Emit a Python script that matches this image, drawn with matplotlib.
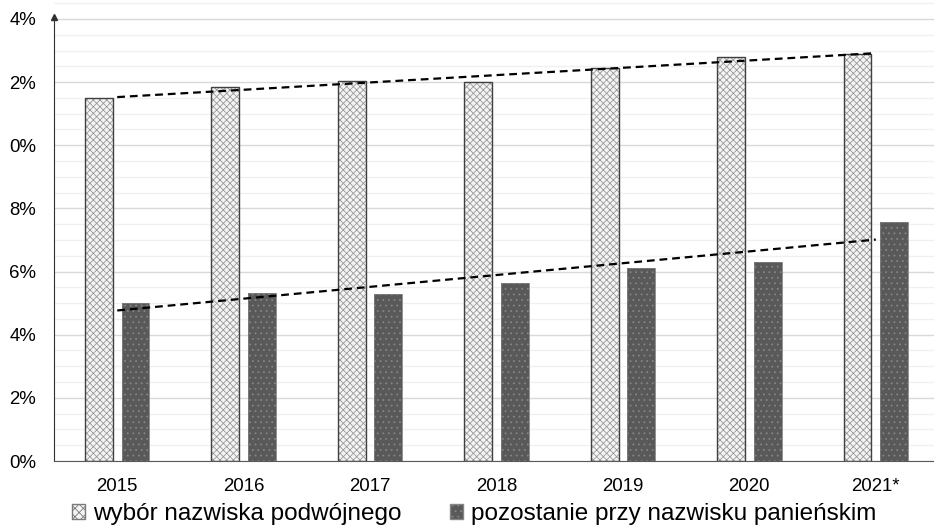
import numpy as np
import matplotlib
matplotlib.use("Agg")
import matplotlib.pyplot as plt
from matplotlib.patches import Patch
from matplotlib.ticker import MultipleLocator

# Data (percent)
years = ["2015", "2016", "2017", "2018", "2019", "2020", "2021*"]
podwojne = [11.5, 11.85, 12.05, 12.0, 12.45, 12.8, 12.9]
panienskie = [5.0, 5.32, 5.29, 5.65, 6.1, 6.3, 7.57]
ytick_vals = [0, 2, 4, 6, 8, 10, 12, 14]
ytick_labels = ["0%", "2%", "4%", "6%", "8%", "0%", "2%", "4%"]
legend_labels = ["wybór nazwiska podwójnego", "pozostanie przy nazwisku panieńskim"]

plt.rcParams["font.family"] = ["Liberation Sans", "DejaVu Sans"]
plt.rcParams["hatch.linewidth"] = 0.6

fig = plt.figure(figsize=(9.34, 5.29), dpi=100)
ax = fig.add_axes([54 / 934, 68 / 529, 885 / 934, 461 / 529])

x = np.arange(len(years))
w = 0.22
off = 0.145

# hatched fill layers, then outlines
ax.bar(x - off, podwojne, w, color="#f4f4f4", edgecolor="#9a9a9a", hatch="xxxxx", linewidth=0, zorder=2)
ax.bar(x - off, podwojne, w, fill=False, edgecolor="#404040", linewidth=1, zorder=3)
ax.bar(x + off, panienskie, w, color="#595959", edgecolor="#858585", hatch="...", linewidth=0, zorder=2)
ax.bar(x + off, panienskie, w, fill=False, edgecolor="#7f7f7f", linewidth=0.6, zorder=3)

# linear trend lines
for vals in (podwojne, panienskie):
    k, b = np.polyfit(x, vals, 1)
    ax.plot(x, k * x + b, color="black", linestyle=(0, (3.5, 2.2)), linewidth=1.6, zorder=4)

ax.set_xlim(-0.5, 6.5)
ax.set_ylim(0, 14.6)
ax.set_xticks(x)
ax.set_xticklabels(years, fontsize=13.4)
ax.set_yticks(ytick_vals)
ax.set_yticklabels(ytick_labels, fontsize=13.4)
ax.yaxis.set_minor_locator(MultipleLocator(0.5))
ax.tick_params(axis="both", which="both", length=0)
ax.tick_params(axis="x", pad=12)
ax.tick_params(axis="y", pad=13)

ax.grid(axis="y", which="major", color="#d9d9d9", linewidth=1)
ax.grid(axis="y", which="minor", color="#f0f0f0", linewidth=1)
ax.set_axisbelow(True)

for s in ("top", "right"):
    ax.spines[s].set_visible(False)
ax.spines["bottom"].set_color("#595959")
ax.spines["left"].set_color("#303030")
ax.spines["left"].set_bounds(0, 14)
ax.plot([-0.5], [14.05], marker="^", color="#303030", markersize=4.5, clip_on=False, zorder=5)

handles = [
    Patch(facecolor="#f4f4f4", edgecolor="#7a7a7a", hatch="xxxx"),
    Patch(facecolor="#595959", edgecolor="#858585", hatch="..."),
]
fig.legend(handles, legend_labels, loc="center", bbox_to_anchor=(474 / 934, 1 - 514 / 529),
           ncol=2, frameon=False, fontsize=17.5, handlelength=0.55, handleheight=0.55,
           handletextpad=0.3, columnspacing=2.0, borderpad=0)

fig.savefig("out.png", dpi=100)
